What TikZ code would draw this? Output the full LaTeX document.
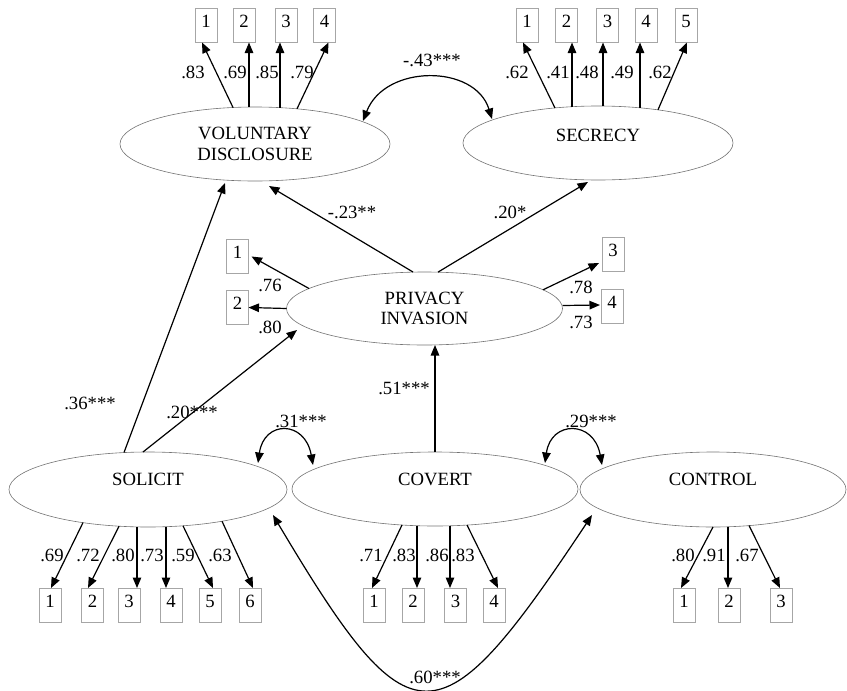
\documentclass[tikz,border=0pt]{standalone}
\usepackage{fontspec}
\setmainfont{Liberation Serif}
\usetikzlibrary{arrows.meta,calc,shapes.geometric}
\begin{document}
\begin{tikzpicture}[x=1pt,y=-1pt,
  font=\fontsize{18.7}{20.5}\selectfont,
  lat/.style={ellipse,draw=black!55,line width=0.6pt,inner sep=0pt,outer sep=0pt},
  ind/.style={rectangle,draw=black!35,line width=0.6pt,inner sep=0pt,outer sep=0pt,minimum width=22pt,text height=19pt,text depth=15pt},
  pth/.style={line width=1.2pt,-{Triangle[length=10.5pt,width=8.5pt]}},
  covar/.style={line width=1.2pt,{Triangle[length=10.5pt,width=8.5pt]}-{Triangle[length=10.5pt,width=8.5pt]}},
  lbl/.style={inner sep=0pt}
]
\useasboundingbox (0,0) rectangle (847,691);
% latent variables
\node[lat,align=center,minimum width=270pt,minimum height=74pt] (vd) at (255,144) {VOLUNTARY\\DISCLOSURE};
\node[lat,minimum width=270pt,minimum height=74pt,text height=12.4pt,text depth=16pt] (sec) at (598,143) {SECRECY};
\node[lat,align=center,minimum width=276pt,minimum height=73pt] (pi) at (424.5,308.5) {PRIVACY\\INVASION};
\node[lat,minimum width=278pt,minimum height=75pt,text height=12.4pt,text depth=20pt] (sol) at (148,489.5) {SOLICIT};
\node[lat,minimum width=286pt,minimum height=74pt,text height=12.4pt,text depth=19pt] (cvt) at (435,489) {COVERT};
\node[lat,minimum width=266pt,minimum height=75pt,text height=12.4pt,text depth=20pt] (ctl) at (713,489.5) {CONTROL};
% indicators
\node[ind] (v1) at (206,25.5) {1};
\node[ind] (v2) at (244,25.5) {2};
\node[ind] (v3) at (286,25.5) {3};
\node[ind] (v4) at (324.5,25.5) {4};
\node[ind] (s1) at (527,25.5) {1};
\node[ind] (s2) at (566.5,25.5) {2};
\node[ind] (s3) at (607.5,25.5) {3};
\node[ind] (s4) at (646,25.5) {4};
\node[ind] (s5) at (686,25.5) {5};
\node[ind] (p1) at (237.5,256.5) {1};
\node[ind] (p2) at (237.5,307.5) {2};
\node[ind] (p3) at (613,254) {3};
\node[ind] (p4) at (612,306.5) {4};
\node[ind] (o1) at (50,605) {1};
\node[ind] (o2) at (92.5,605) {2};
\node[ind] (o3) at (129,605) {3};
\node[ind] (o4) at (171,605) {4};
\node[ind] (o5) at (210,605) {5};
\node[ind] (o6) at (250,605) {6};
\node[ind] (c1) at (374,605) {1};
\node[ind] (c2) at (413,605) {2};
\node[ind] (c3) at (455.5,605) {3};
\node[ind] (c4) at (494,605) {4};
\node[ind] (k1) at (684,605) {1};
\node[ind] (k2) at (729,605) {2};
\node[ind] (k3) at (781,605) {3};
% VD loadings
\draw[pth] ($(vd.center)+(-22,-36.5)$) -- ($(v1.south)+(-4,0)$);
\draw[pth] ($(vd.center)+(-6,-37)$) -- ($(v2.south)+(5,0)$);
\draw[pth] ($(vd.center)+(25,-36.5)$) -- ($(v3.south)+(-6,0)$);
\draw[pth] ($(vd.center)+(42,-35.2)$) -- ($(v4.south)+(4,0)$);
% Secrecy loadings
\draw[pth] ($(sec.center)+(-43,-35)$) -- ($(s1.south)+(-4,0)$);
\draw[pth] ($(sec.center)+(-26,-36.3)$) -- ($(s2.south)+(5.5,0)$);
\draw[line width=2.2pt] ($(sec.center)+(-26,-36.3)$) -- ++(0,-51);
\draw[pth] ($(sec.center)+(5,-37)$) -- ($(s3.south)+(-4.5,0)$);
\draw[pth] ($(sec.center)+(42,-35.2)$) -- ($(s4.south)+(-6,0)$);
\draw[pth] ($(sec.center)+(60,-33.2)$) -- ($(s5.south)+(1,0)$);
% privacy invasion
\draw[pth] ($(pi.center)+(-11.5,-36.5)$) -- ($(vd.center)+(14,42)$);
\draw[pth] ($(pi.center)+(13.5,-36.4)$) -- ($(sec.center)+(-10,39)$);
\draw[pth] ($(pi.center)+(-115.5,-20)$) -- ($(p1.east)+(3,0)$);
\draw[pth] (pi.west) -- (p2.east);
\draw[pth] ($(pi.center)+(118.5,-18.7)$) -- ($(p3.west)+(-3,9)$);
\draw[pth] ($(pi.east)+(0,-3)$) -- ($(p4.west)+(-1,-1.5)$);
% structural paths
\draw[pth] ($(sol.center)+(-24,-37)$) -- ($(vd.center)+(-30,39)$);
\draw[pth] ($(sol.center)+(-5,-37.5)$) -- ($(pi.center)+(-127.5,21.5)$);
\draw[pth] (cvt.north) -- (cvt.north |- pi.south);
% solicit loadings
\draw[pth] ($(sol.center)+(-65,33.1)$) -- ($(o1.north)+(1,0)$);
\draw[pth] ($(sol.center)+(-29,36.7)$) -- ($(o2.north)+(-4.5,0)$);
\draw[pth] ($(sol.center)+(-11,37.4)$) -- ($(o3.north)+(8,0)$);
\draw[pth] ($(sol.center)+(18,37.2)$) -- ($(o4.north)+(-5,0)$);
\draw[pth] ($(sol.center)+(35,36.3)$) -- ($(o5.north)+(3,0)$);
\draw[pth] ($(sol.center)+(74,31.7)$) -- ($(o6.north)+(3,0)$);
% covert loadings
\draw[pth] ($(cvt.center)+(-33,36)$) -- ($(c1.north)+(-2,0)$);
\draw[pth] ($(cvt.center)+(-18,36.7)$) -- ($(c2.north)+(4,0)$);
\draw[pth] ($(cvt.center)+(15,36.8)$) -- ($(c3.north)+(-5.5,0)$);
\draw[pth] ($(cvt.center)+(32,36)$) -- ($(c4.north)+(4,0)$);
% control loadings
\draw[pth] (ctl.south) -- ($(k1.north)+(-3,0)$);
\draw[pth] ($(ctl.center)+(15,37.2)$) -- ($(k2.north)+(-1,0)$);
\draw[pth] ($(ctl.center)+(36,36)$) -- ($(k3.north)+(-1,0)$);
% covariances
\draw[covar] ($(vd.center)+(108,-23)$) .. controls +(22,-57) and +(-17,-55) .. ($(sec.center)+(-106,-24)$);
\draw[covar] ($(sol.center)+(110,-26.5)$) .. controls +(6,-43) and +(-8,-45) .. ($(cvt.center)+(-122,-24)$);
\draw[covar] ($(cvt.center)+(110,-26)$) .. controls +(6,-43) and +(-8,-45) .. ($(ctl.center)+(-111,-24.5)$);
\draw[covar] ($(sol.center)+(125,25.5)$) .. controls +(138,232) and +(-154,232) .. ($(ctl.center)+(-121,25.5)$);
% labels
\node[lbl] (lv1) at (193,72) {.83};
\node[lbl] (lv2) at (235,72) {.69};
\node[lbl] (lv3) at (267,72) {.85};
\node[lbl] (lv4) at (302,72) {.79};
\node[lbl] (ls1) at (517,72) {.62};
\node[lbl] (ls2) at (558,72) {.41};
\node[lbl] (ls3) at (587,72) {.48};
\node[lbl] (ls4) at (622,72) {.49};
\node[lbl] (ls5) at (660,72) {.62};
\node[lbl] (lvs) at (432,60) {-.43***};
\node[lbl] (lpv) at (352,212) {-.23**};
\node[lbl] (lps) at (510,212) {.20*};
\node[lbl] (lp1) at (270,285) {.76};
\node[lbl] (lp2) at (270,327) {.80};
\node[lbl] (lp3) at (581,287) {.78};
\node[lbl] (lp4) at (581,322) {.73};
\node[lbl] (lsv) at (90,403) {.36***};
\node[lbl] (lsp) at (192,412) {.20***};
\node[lbl] (lcp) at (404,388) {.51***};
\node[lbl] (lsc) at (301,421) {.31***};
\node[lbl] (lcc) at (591,421) {.29***};
\node[lbl] (lsk) at (435,677) {.60***};
\node[lbl] (lo1) at (52,555) {.69};
\node[lbl] (lo2) at (88,555) {.72};
\node[lbl] (lo3) at (123,555) {.80};
\node[lbl] (lo4) at (152,555) {.73};
\node[lbl] (lo5) at (183,555) {.59};
\node[lbl] (lo6) at (220,555) {.63};
\node[lbl] (lc1) at (371,555) {.71};
\node[lbl] (lc2) at (404,555) {.83};
\node[lbl] (lc3) at (437,555) {.86};
\node[lbl] (lc4) at (463,555) {.83};
\node[lbl] (lk1) at (683,555) {.80};
\node[lbl] (lk2) at (714,555) {.91};
\node[lbl] (lk3) at (747,555) {.67};
\end{tikzpicture}
\end{document}
